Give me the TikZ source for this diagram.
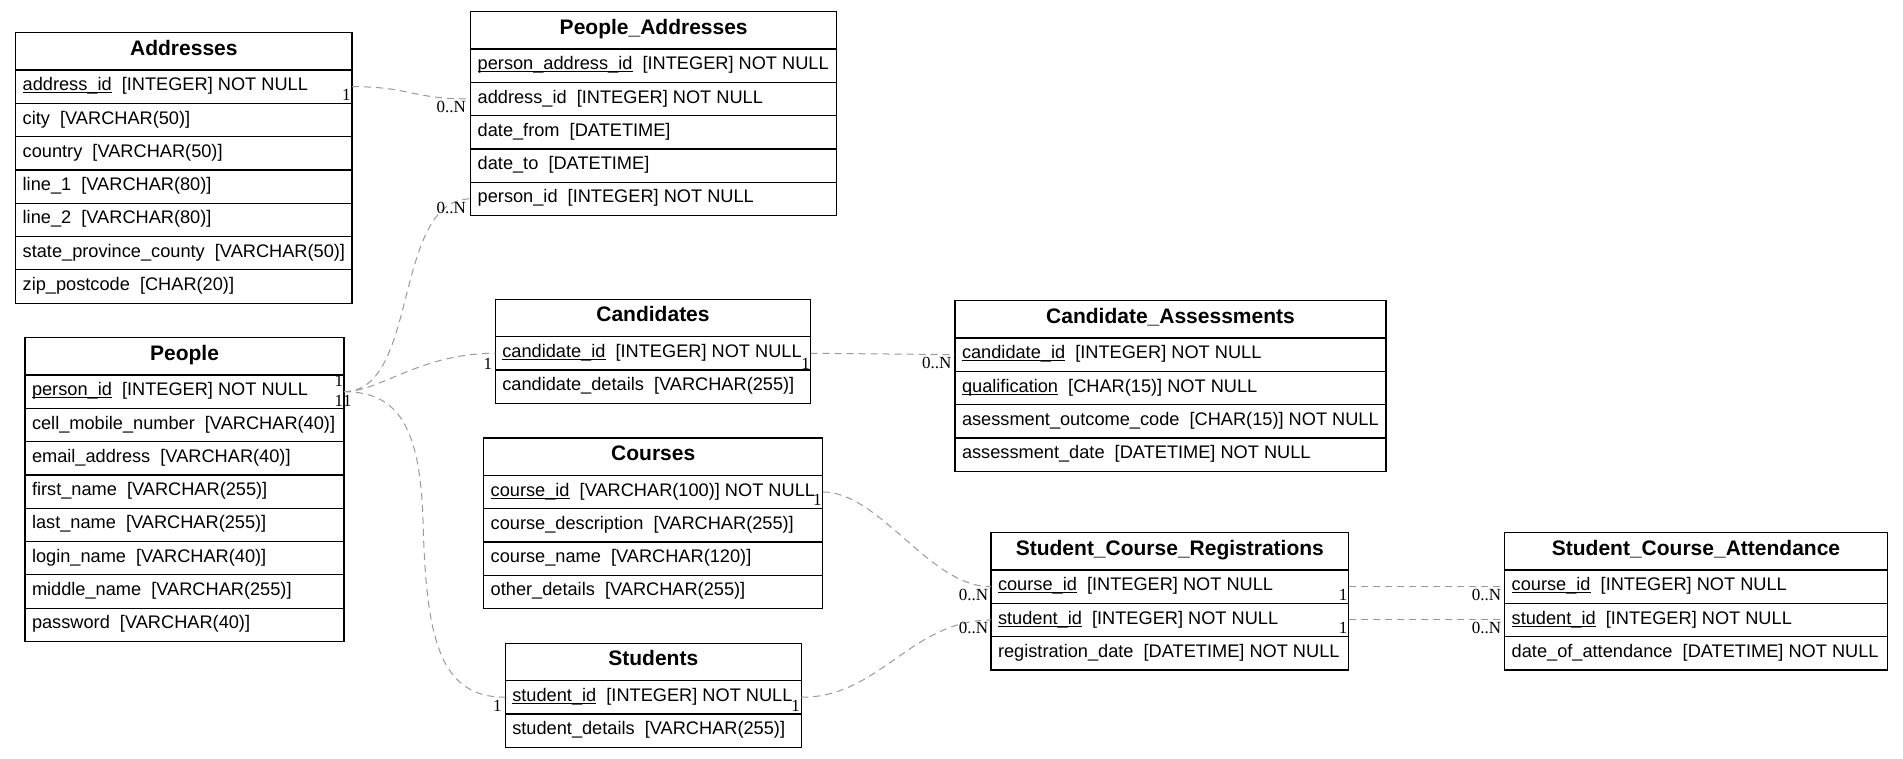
\documentclass[tikz,border=0pt]{standalone}
\usepackage{fontspec}
\setmainfont{Liberation Sans}
\newfontfamily\cardfont{Liberation Serif}
\newdimen\tw
\newcommand\pk[1]{\setbox0\hbox{#1}\rlap{\rule[-2.4pt]{\wd0}{0.9pt}}\box0}
\newcommand\rowfont{\fontsize{18.2}{20}\selectfont}
\newcommand\hdrfont{\fontsize{21}{24}\selectfont\bfseries}
\tikzset{
  tbl/.style={draw, line width=1.2pt, anchor=north west, inner xsep=7pt, inner ysep=0pt, outer sep=0pt},
  hdrbox/.style={tbl, minimum height=37.3pt, text height=15pt, text depth=7.7pt, font=\hdrfont},
  rowbox/.style={tbl, minimum height=33.3pt, text height=13pt, text depth=4.9pt, font=\rowfont},
  rel/.style={draw=black!40, dash pattern=on 7pt off 5pt, line width=1pt},
  card/.style={font=\cardfont\fontsize{17}{19}\selectfont, inner sep=0pt, anchor=base east},
}
\newcommand\hdr[4]{\node[hdrbox] (#1) at (#2,#3) {\makebox[\tw][c]{#4}};}
\newcommand\fld[3]{\node[rowbox] (#1) at (#2.south west) {\makebox[\tw][l]{#3}};}
\begin{document}
\begin{tikzpicture}[x=1pt,y=-1pt]
\useasboundingbox (0,0) rectangle (1903,758);

% Addresses
\tw=322.3pt
\hdr{ad}{15.7}{32.7}{Addresses}
\fld{ad1}{ad}{\pk{address\_id}\ \ [INTEGER] NOT NULL}
\fld{ad2}{ad1}{city\ \ [VARCHAR(50)]}
\fld{ad3}{ad2}{country\ \ [VARCHAR(50)]}
\fld{ad4}{ad3}{line\_1\ \ [VARCHAR(80)]}
\fld{ad5}{ad4}{line\_2\ \ [VARCHAR(80)]}
\fld{ad6}{ad5}{state\_province\_county\ \ [VARCHAR(50)]}
\fld{ad7}{ad6}{zip\_postcode\ \ [CHAR(20)]}

% People_Addresses
\tw=352pt
\hdr{pa}{470.7}{11.7}{People\_Addresses}
\fld{pa1}{pa}{\pk{person\_address\_id}\ \ [INTEGER] NOT NULL}
\fld{pa2}{pa1}{address\_id\ \ [INTEGER] NOT NULL}
\fld{pa3}{pa2}{date\_from\ \ [DATETIME]}
\fld{pa4}{pa3}{date\_to\ \ [DATETIME]}
\fld{pa5}{pa4}{person\_id\ \ [INTEGER] NOT NULL}

% People
\tw=305pt
\hdr{pe}{25}{337.7}{People}
\fld{pe1}{pe}{\pk{person\_id}\ \ [INTEGER] NOT NULL}
\fld{pe2}{pe1}{cell\_mobile\_number\ \ [VARCHAR(40)]}
\fld{pe3}{pe2}{email\_address\ \ [VARCHAR(40)]}
\fld{pe4}{pe3}{first\_name\ \ [VARCHAR(255)]}
\fld{pe5}{pe4}{last\_name\ \ [VARCHAR(255)]}
\fld{pe6}{pe5}{login\_name\ \ [VARCHAR(40)]}
\fld{pe7}{pe6}{middle\_name\ \ [VARCHAR(255)]}
\fld{pe8}{pe7}{password\ \ [VARCHAR(40)]}

% Candidates
\tw=301.4pt
\hdr{ca}{495.3}{299.3}{Candidates}
\fld{ca1}{ca}{\pk{candidate\_id}\ \ [INTEGER] NOT NULL}
\fld{ca2}{ca1}{candidate\_details\ \ [VARCHAR(255)]}

% Courses
\tw=325pt
\hdr{co}{483.7}{438}{Courses}
\fld{co1}{co}{\pk{course\_id}\ \ [VARCHAR(100)] NOT NULL}
\fld{co2}{co1}{course\_description\ \ [VARCHAR(255)]}
\fld{co3}{co2}{course\_name\ \ [VARCHAR(120)]}
\fld{co4}{co3}{other\_details\ \ [VARCHAR(255)]}

% Students
\tw=282pt
\hdr{st}{505.3}{643.3}{Students}
\fld{st1}{st}{\pk{student\_id}\ \ [INTEGER] NOT NULL}
\fld{st2}{st1}{student\_details\ \ [VARCHAR(255)]}

% Candidate_Assessments
\tw=417pt
\hdr{cas}{955}{300.7}{Candidate\_Assessments}
\fld{cas1}{cas}{\pk{candidate\_id}\ \ [INTEGER] NOT NULL}
\fld{cas2}{cas1}{\pk{qualification}\ \ [CHAR(15)] NOT NULL}
\fld{cas3}{cas2}{asessment\_outcome\_code\ \ [CHAR(15)] NOT NULL}
\fld{cas4}{cas3}{assessment\_date\ \ [DATETIME] NOT NULL}

% Student_Course_Registrations
\tw=343.7pt
\hdr{scr}{991}{532.7}{Student\_Course\_Registrations}
\fld{scr1}{scr}{\pk{course\_id}\ \ [INTEGER] NOT NULL}
\fld{scr2}{scr1}{\pk{student\_id}\ \ [INTEGER] NOT NULL}
\fld{scr3}{scr2}{registration\_date\ \ [DATETIME] NOT NULL}

% Student_Course_Attendance
\tw=368.6pt
\hdr{sca}{1504.7}{532.7}{Student\_Course\_Attendance}
\fld{sca1}{sca}{\pk{course\_id}\ \ [INTEGER] NOT NULL}
\fld{sca2}{sca1}{\pk{student\_id}\ \ [INTEGER] NOT NULL}
\fld{sca3}{sca2}{date\_of\_attendance\ \ [DATETIME] NOT NULL}

% relationships
\draw[rel] (ad1.east) .. controls (411,86.7) and (411,99) .. (pa2.west);
\draw[rel] (pe1.east) .. controls (420,391.7) and (392,199) .. (pa5.west);
\draw[rel] (pe1.east) .. controls (380,391.7) and (420,353.3) .. (ca1.west);
\draw[rel] (pe1.east) .. controls (400,391.7) and (420,430) .. (423,520)
                      .. controls (426,640) and (440,697.3) .. (st1.west);
\draw[rel] (ca1.east) -- (cas1.west);
\draw[rel] (co1.east) .. controls (880,492) and (930,587.3) .. (scr1.west);
\draw[rel] (st1.east) .. controls (880,697.3) and (910,620.7) .. (scr2.west);
\draw[rel] (scr1.east) -- (sca1.west);
\draw[rel] (scr2.east) -- (sca2.west);

% cardinalities
\node[card] (c1) at (350.7,100.7) {1};
\node[card] (c2) at (466,112.5) {0..N};
\node[card] (c3) at (466,213.3) {0..N};
\node[card] (c4) at (343.3,386) {1};
\node[card] (c5) at (343.3,406) {1};
\node[card] (c6) at (351.7,406) {1};
\node[card] (c7) at (492.3,369) {1};
\node[card] (c8) at (810,369.3) {1};
\node[card] (c9) at (951.7,368.3) {0..N};
\node[card] (c10) at (821.7,505) {1};
\node[card] (c11) at (988.3,600) {0..N};
\node[card] (c12) at (988.3,633.3) {0..N};
\node[card] (c13) at (501.7,711.7) {1};
\node[card] (c14) at (800,711.7) {1};
\node[card] (c15) at (1347.5,600) {1};
\node[card] (c16) at (1347.5,633) {1};
\node[card] (c17) at (1501.3,600) {0..N};
\node[card] (c18) at (1501.3,633.3) {0..N};
\end{tikzpicture}
\end{document}
